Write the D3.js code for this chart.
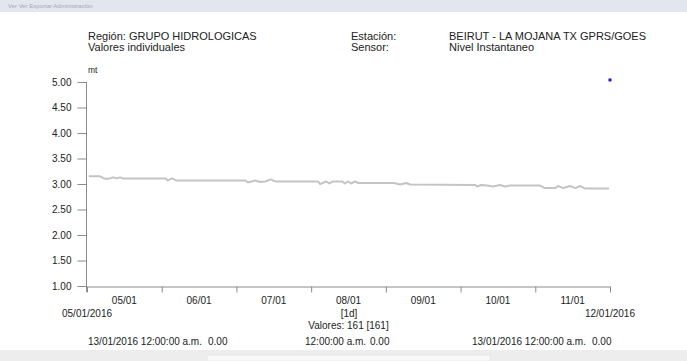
<!DOCTYPE html>
<html>
<head>
<meta charset="utf-8">
<script src="https://cdn.jsdelivr.net/npm/d3@7"></script>
<style>
html,body{margin:0;padding:0;background:#fff;}
svg{display:block;font-family:"Liberation Sans",Arial,sans-serif;}
</style>
</head>
<body>
<svg id="chart" width="687" height="361"></svg>
<script>
// ---- data ----
const startDate = "2016-01-05T00:00:00";
const endDate = "2016-01-12T00:00:00";
const hoursFromStart = [0.6,4.2,5.5,6.7,8.4,9.6,10.6,11.6,25.1,26.0,27.3,28.6,50.8,51.7,54.0,55.6,57.2,59.1,60.1,61.0,74.2,74.9,76.8,77.8,79.0,81.9,82.9,83.9,84.8,86.1,87.1,98.6,100.6,102.5,103.8,124.7,125.3,126.6,128.5,130.4,132.7,134.3,135.9,137.5,145.5,147.1,150.4,151.3,152.9,155.2,156.8,158.4,160.0,167.7];
const nivel = [3.15,3.15,3.11,3.10,3.13,3.11,3.13,3.11,3.11,3.07,3.11,3.07,3.07,3.03,3.07,3.04,3.05,3.09,3.06,3.05,3.05,3.00,3.05,3.01,3.05,3.05,3.01,3.05,3.01,3.05,3.02,3.02,2.99,3.02,2.99,2.98,2.95,2.98,2.97,2.95,2.98,2.95,2.97,2.97,2.97,2.92,2.92,2.96,2.92,2.96,2.92,2.96,2.91,2.91];
const markerHours = [168];
const markerValues = [5.04];
const yTicks = [1.00,1.50,2.00,2.50,3.00,3.50,4.00,4.50,5.00];
const headerLeft = ["Región: GRUPO HIDROLOGICAS","Valores individuales"];
const headerMidLabels = ["Estación:","Sensor:"];
const headerRight = ["BEIRUT - LA MOJANA TX GPRS/GOES","Nivel Instantaneo"];
const unitLabel = "mt";
const startLabel = "05/01/2016";
const endLabel = "12/01/2016";
const intervalLabel = "[1d]";
const countLabel = "Valores: 161 [161]";
const footerLeft = ["13/01/2016 12:00:00 a.m.","0.00"];
const footerMid = ["12:00:00 a.m.","0.00"];
const footerRight = ["13/01/2016 12:00:00 a.m.","0.00"];

// ---- drawing ----
const svg = d3.select("#chart");
const parse = d3.isoParse;
const t0 = parse(startDate), t1 = parse(endDate);
const toDate = h => new Date(t0.getTime() + h*3600000);

// top menu strip
svg.append("rect").attr("x",0).attr("y",0).attr("width",687).attr("height",12).attr("fill","#e2e6ef");
svg.append("text").attr("x",8).attr("y",8).attr("font-size",6).attr("fill","#8a8f9a").attr("opacity",0.7)
  .text("Ver  Ver  Exportar  Administración");

// bottom strip
svg.append("rect").attr("x",0).attr("y",350).attr("width",687).attr("height",11).attr("fill","#ededed");
svg.append("rect").attr("x",207).attr("y",355).attr("width",283).attr("height",6).attr("fill","#f9f9f9").attr("stroke","#dcdcdc").attr("stroke-width",0.5);

const x = d3.scaleTime().domain([t0,t1]).range([87,610]);
const y = d3.scaleLinear().domain([1,5]).range([286,82]);

const axisColor = "#8c8c8c";
const textColor = "#222";

// header
const hdr = svg.append("g").attr("font-size",11).attr("fill",textColor);
headerLeft.forEach((s,i)=>hdr.append("text").attr("x",88).attr("y",39.5+i*11.5).text(s));
headerMidLabels.forEach((s,i)=>hdr.append("text").attr("x",351).attr("y",39.5+i*11.5).text(s));
headerRight.forEach((s,i)=>hdr.append("text").attr("x",449).attr("y",39.5+i*11.5).text(s));

svg.append("text").attr("x",88).attr("y",73).attr("font-size",8.5).attr("fill",textColor).text(unitLabel);

// y axis
const yAxis = d3.axisLeft(y).tickValues(yTicks).tickFormat(d3.format(".2f")).tickSize(9).tickPadding(6);
const gy = svg.append("g").attr("transform","translate(86.5,0)").call(yAxis);
gy.select(".domain").remove();
gy.append("line").attr("x1",0).attr("x2",0).attr("y1",y(5)).attr("y2",292).attr("stroke",axisColor);
gy.selectAll(".tick line").attr("stroke",axisColor);
gy.selectAll(".tick text").attr("font-size",10).attr("fill",textColor).attr("font-family","Liberation Sans, Arial, sans-serif");

// x axis
const xAxis = d3.axisBottom(x).ticks(d3.timeDay.every(1)).tickFormat("").tickSize(6).tickSizeOuter(0);
const gx = svg.append("g").attr("transform","translate(0,286.5)").call(xAxis);
gx.select(".domain").attr("stroke",axisColor);
gx.selectAll(".tick line").attr("stroke",axisColor);

// day labels centered at midday
const days = d3.timeDay.range(t0,t1);
const fmt = d3.timeFormat("%d/%m");
svg.append("g").attr("font-size",10).attr("fill",textColor).attr("text-anchor","middle")
  .selectAll("text").data(days).join("text")
  .attr("x",d=>x(d3.timeHour.offset(d,12))).attr("y",303.5).text(d=>fmt(d));

const ft = svg.append("g").attr("font-size",10).attr("fill",textColor);
ft.append("text").attr("x",62).attr("y",317).text(startLabel);
ft.append("text").attr("x",635).attr("y",317).attr("text-anchor","end").text(endLabel);
ft.append("text").attr("x",349).attr("y",317).attr("text-anchor","middle").text(intervalLabel);
ft.append("text").attr("x",348.5).attr("y",329).attr("text-anchor","middle").text(countLabel);
ft.append("text").attr("x",88).attr("y",344.5).text(footerLeft[0]);
ft.append("text").attr("x",208).attr("y",344.5).text(footerLeft[1]);
ft.append("text").attr("x",305).attr("y",344.5).text(footerMid[0]);
ft.append("text").attr("x",370).attr("y",344.5).text(footerMid[1]);
ft.append("text").attr("x",472).attr("y",344.5).text(footerRight[0]);
ft.append("text").attr("x",592).attr("y",344.5).text(footerRight[1]);

// series line
const series = hoursFromStart.map((h,i)=>({t:toDate(h),v:nivel[i]}));
svg.append("path").datum(series)
  .attr("fill","none").attr("stroke","#c4c4c4").attr("stroke-width",2).attr("stroke-linejoin","round")
  .attr("d",d3.line().x(d=>x(d.t)).y(d=>y(d.v)));

// marker point
const markers = markerHours.map((h,i)=>({t:toDate(h),v:markerValues[i]}));
svg.selectAll("rect.mk").data(markers).join("rect").attr("class","mk")
  .attr("x",d=>x(d.t)-1.5).attr("y",d=>y(d.v)-1.5).attr("width",3).attr("height",3).attr("fill","#1a1acc");
</script>
</body>
</html>
